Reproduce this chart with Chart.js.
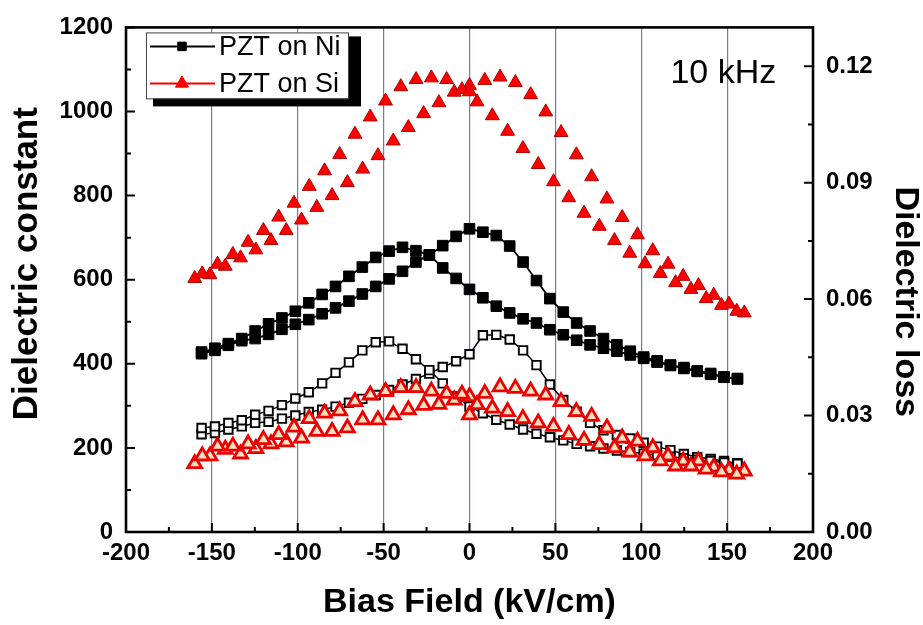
<!DOCTYPE html>
<html>
<head>
<meta charset="utf-8">
<script src="https://cdn.jsdelivr.net/npm/chart.js@4.4.1/dist/chart.umd.min.js"></script>
<style>
  html, body { margin: 0; padding: 0; background: #ffffff; }
  canvas { display: block; }
</style>
</head>
<body>
<canvas id="chart" width="923" height="625"></canvas>
<script>
// ---------------- data ----------------
// PZT on Ni : bias field points shared by both sweeps
const fieldNi = [-156, -148.2, -140.4, -132.6, -124.8, -117, -109.2, -101.4, -93.6, -85.8,
  -78, -70.2, -62.4, -54.6, -46.8, -39, -31.2, -23.4, -15.6, -7.8,
  0, 7.8, 15.6, 23.4, 31.2, 39, 46.8, 54.6, 62.4, 70.2,
  78, 85.8, 93.6, 101.4, 109.2, 117, 124.8, 132.6, 140.4, 148.2, 156];
// dielectric constant, sweep with peak near 0 kV/cm
const niConstUp = [424, 432, 444, 455, 460, 470, 482, 494, 505, 519,
  533, 549, 566, 584, 602, 620, 642, 659, 681, 703,
  721, 713, 705, 680, 642, 598, 555, 523, 497, 478,
  460, 445, 430, 416, 407, 397, 391, 383, 377, 369, 365];
// dielectric constant, sweep with peak near -39 kV/cm
const niConstDown = [428, 437, 448, 460, 478, 495, 509, 525, 545, 565,
  584, 608, 630, 653, 668, 677, 669, 659, 628, 603,
  577, 557, 537, 521, 507, 497, 481, 469, 456, 445,
  437, 430, 421, 413, 404, 396, 389, 382, 375, 368, 364];
// dielectric loss
const niLossUp = [0.0252, 0.0255, 0.0264, 0.0272, 0.0281, 0.0284, 0.0292, 0.0300, 0.0309, 0.0315,
  0.0323, 0.0333, 0.0343, 0.0353, 0.0366, 0.0380, 0.0394, 0.0408, 0.0425, 0.0440,
  0.0458, 0.0507, 0.0508, 0.0496, 0.0468, 0.0430, 0.0380, 0.0340, 0.0310, 0.0281,
  0.0262, 0.0250, 0.0241, 0.0230, 0.0220, 0.0211, 0.0201, 0.0193, 0.0188, 0.0183, 0.0177];
const niLossDown = [0.0268, 0.0272, 0.0281, 0.0288, 0.0302, 0.0312, 0.0327, 0.0344, 0.0360, 0.0383,
  0.0410, 0.0437, 0.0468, 0.0489, 0.0491, 0.0472, 0.0445, 0.0417, 0.0383, 0.0349,
  0.0323, 0.0306, 0.0289, 0.0277, 0.0264, 0.0253, 0.0244, 0.0236, 0.0227, 0.0221,
  0.0215, 0.0210, 0.0206, 0.0202, 0.0198, 0.0194, 0.0190, 0.0186, 0.0183, 0.0179, 0.0176];

// PZT on Si : the two sweeps sit on interleaved field points
const fieldSiUp = [-160, -151.1, -142.2, -133.3, -124.4, -115.6, -106.7, -97.8, -88.9, -80,
  -71.1, -62.2, -53.3, -44.4, -35.6, -26.7, -17.8, -8.9, 0, 8.9,
  17.8, 26.7, 35.6, 44.4, 53.3, 62.2, 71.1, 80, 88.9, 97.8,
  106.7, 115.6, 124.4, 133.3, 142.2, 151.1, 160];
const fieldSiDown = [-155.6, -146.7, -137.8, -128.9, -120, -111.1, -102.2, -93.3, -84.4, -75.6,
  -66.7, -57.8, -48.9, -40, -31.1, -22.2, -13.3, -4.4, 0, 4.4,
  13.3, 22.2, 31.1, 40, 48.9, 57.8, 66.7, 75.6, 84.4, 93.3,
  102.2, 111.1, 120, 128.9, 137.8, 146.7, 155.6];
const siConstUp = [603, 612, 632, 652, 671, 693, 717, 742, 772, 800,
  831, 863, 895, 930, 962, 995, 1021, 1046, 1062, 1074,
  1082, 1069, 1040, 999, 950, 897, 845, 792, 748, 707,
  669, 637, 608, 586, 563, 542, 521];
const siConstDown = [614, 637, 660, 689, 717, 749, 782, 822, 859, 898,
  946, 987, 1025, 1059, 1076, 1080, 1076, 1052, 1047, 1023,
  990, 953, 912, 874, 833, 795, 758, 727, 693, 663,
  638, 615, 593, 577, 555, 539, 525];
const siLossUp = [0.0176, 0.0196, 0.0213, 0.0201, 0.0215, 0.0227, 0.0232, 0.0242, 0.0259, 0.0259,
  0.0268, 0.0289, 0.0289, 0.0302, 0.0315, 0.0326, 0.0329, 0.0340, 0.0349, 0.0357,
  0.0374, 0.0370, 0.0363, 0.0353, 0.0336, 0.0310, 0.0298, 0.0268, 0.0242, 0.0234,
  0.0217, 0.0196, 0.0183, 0.0183, 0.0167, 0.0159, 0.0157];
const siLossDown = [0.0196, 0.0221, 0.0221, 0.0227, 0.0238, 0.0251, 0.0270, 0.0292, 0.0306, 0.0312,
  0.0336, 0.0353, 0.0362, 0.0372, 0.0372, 0.0363, 0.0357, 0.0355, 0.0302, 0.0328,
  0.0319, 0.0310, 0.0292, 0.0281, 0.0272, 0.0251, 0.0236, 0.0225, 0.0217, 0.0206,
  0.0196, 0.0183, 0.0170, 0.0170, 0.0162, 0.0155, 0.0149];

// axes / text
const lossTicks = [0, 0.03, 0.06, 0.09, 0.12];
const legendLabels = ['PZT on Ni', 'PZT on Si'];
const xTitle = 'Bias Field (kV/cm)';
const yTitle = 'Dielectric constant';
const y2Title = 'Dielectric loss';
const freqLabel = '10 kHz';

// ---------------- chart ----------------
const FONT = '"Liberation Sans", Arial, Helvetica, sans-serif';
Chart.defaults.font.family = FONT;
Chart.defaults.color = '#000';

function pts(xs, ys) { return xs.map((x, i) => ({ x: x, y: ys[i] })); }
function loop(xs, up, down) { return pts(xs, up).concat(pts(xs, down).reverse()); }

const NI_COLOR = '#000000';
const SI_COLOR = '#ff0000';

const framePlugin = {
  id: 'frame',
  afterDraw(chart) {
    const { ctx, chartArea: a, scales } = chart;
    const sx = scales.x, sy = scales.y, sy2 = scales.y2;
    ctx.save();
    // inward ticks
    ctx.strokeStyle = '#000';
    ctx.lineWidth = 2;
    ctx.beginPath();
    for (let v = sx.min; v <= sx.max + 1e-9; v += 25) {
      const px = sx.getPixelForValue(v);
      const len = (Math.round(v) % 50 === 0) ? 9 : 5;
      ctx.moveTo(px, a.bottom); ctx.lineTo(px, a.bottom - len);
    }
    for (let v = sy.min; v <= sy.max + 1e-9; v += 100) {
      const py = sy.getPixelForValue(v);
      const len = (Math.round(v) % 200 === 0) ? 9 : 5;
      ctx.moveTo(a.left, py); ctx.lineTo(a.left + len, py);
    }
    for (let i = 0; i <= 8; i++) {
      const v = i * 0.015;
      const py = sy2.getPixelForValue(v);
      const len = (i % 2 === 0) ? 9 : 5;
      ctx.moveTo(a.right, py); ctx.lineTo(a.right - len, py);
    }
    ctx.stroke();
    // frame
    ctx.lineWidth = 2.6;
    ctx.strokeRect(a.left, a.top, a.right - a.left, a.bottom - a.top);

    // vertical axis titles
    ctx.fillStyle = '#000';
    ctx.textAlign = 'center';
    ctx.textBaseline = 'middle';
    ctx.font = 'bold 35px ' + FONT;
    ctx.save();
    ctx.translate(27, (a.top + a.bottom) / 2 - 16);
    ctx.rotate(-Math.PI / 2);
    ctx.fillText(yTitle, 0, 0);
    ctx.restore();
    ctx.font = 'bold 34px ' + FONT;
    ctx.save();
    ctx.translate(905, (a.top + a.bottom) / 2 + 22);
    ctx.rotate(Math.PI / 2);
    ctx.fillText(y2Title, 0, 0);
    ctx.restore();

    // legend with shadow
    const box = { x: a.left + 20, y: a.top + 5, w: 202, h: 66 };
    ctx.fillStyle = '#000';
    ctx.fillRect(box.x + 7, box.y + 4, box.w + 6, box.h + 4);
    ctx.fillStyle = '#fff';
    ctx.fillRect(box.x, box.y, box.w, box.h);
    ctx.strokeStyle = '#444';
    ctx.lineWidth = 1;
    ctx.strokeRect(box.x + 0.5, box.y + 0.5, box.w, box.h);
    const rows = [
      { label: legendLabels[0], color: NI_COLOR, style: 'rect', r: 6, fill: NI_COLOR, cy: box.y + 14 },
      { label: legendLabels[1], color: SI_COLOR, style: 'triangle', r: 7.5, fill: SI_COLOR, cy: box.y + 51 }
    ];
    rows.forEach(row => {
      ctx.strokeStyle = row.color;
      ctx.lineWidth = 2;
      ctx.beginPath();
      ctx.moveTo(box.x + 4, row.cy); ctx.lineTo(box.x + 69, row.cy);
      ctx.stroke();
      ctx.fillStyle = row.fill;
      ctx.strokeStyle = row.color;
      ctx.lineWidth = 1;
      Chart.helpers.drawPoint(ctx, { pointStyle: row.style, radius: row.r, borderWidth: 1, rotation: 0 }, box.x + 36, row.cy);
      ctx.fillStyle = '#000';
      ctx.font = '27px ' + FONT;
      ctx.textAlign = 'left';
      ctx.textBaseline = 'middle';
      ctx.fillText(row.label, box.x + 73, row.cy + 1);
    });

    // frequency annotation
    ctx.fillStyle = '#000';
    ctx.font = '34px ' + FONT;
    ctx.textAlign = 'left';
    ctx.textBaseline = 'alphabetic';
    ctx.fillText(freqLabel, sx.getPixelForValue(117), sy.getPixelForValue(1068));
    ctx.restore();
  }
};

new Chart(document.getElementById('chart'), {
  type: 'scatter',
  data: {
    datasets: [
      {
        label: 'PZT on Ni',
        data: loop(fieldNi, niConstUp, niConstDown),
        yAxisID: 'y',
        showLine: true,
        borderColor: NI_COLOR,
        borderWidth: 1.8,
        pointStyle: 'rect',
        pointRadius: 7.5,
        pointBackgroundColor: NI_COLOR,
        pointBorderColor: NI_COLOR,
        pointBorderWidth: 1,
        order: 2
      },
      {
        label: 'PZT on Ni (loss)',
        data: loop(fieldNi, niLossUp, niLossDown),
        yAxisID: 'y2',
        showLine: true,
        borderColor: NI_COLOR,
        borderWidth: 1.5,
        pointStyle: 'rect',
        pointRadius: 6,
        pointBackgroundColor: '#ffffff',
        pointBorderColor: NI_COLOR,
        pointBorderWidth: 1.9,
        order: 2
      },
      {
        label: 'PZT on Si',
        data: pts(fieldSiUp, siConstUp).concat(pts(fieldSiDown, siConstDown)),
        yAxisID: 'y',
        showLine: false,
        pointStyle: 'triangle',
        pointRadius: 8,
        pointBackgroundColor: SI_COLOR,
        pointBorderColor: '#b00000',
        pointBorderWidth: 1,
        order: 1
      },
      {
        label: 'PZT on Si (loss)',
        data: pts(fieldSiUp, siLossUp).concat(pts(fieldSiDown, siLossDown)),
        yAxisID: 'y2',
        showLine: false,
        pointStyle: 'triangle',
        pointRadius: 8,
        pointBackgroundColor: '#fbe0c0',
        pointBorderColor: '#ee0000',
        pointBorderWidth: 2.8,
        order: 1
      }
    ]
  },
  options: {
    responsive: false,
    animation: false,
    events: [],
    layout: { padding: { top: 25, left: 0, right: 0, bottom: 0 } },
    plugins: { legend: { display: false }, tooltip: { enabled: false } },
    scales: {
      x: {
        type: 'linear',
        position: 'bottom',
        min: -200, max: 200,
        ticks: { stepSize: 50, autoSkip: false, maxRotation: 0, padding: 7, font: { size: 24, weight: 'bold' }, color: '#000',
                 callback: v => String(v) },
        grid: {
          drawTicks: false,
          lineWidth: 1.2,
          color: c => (c.tick && Math.abs(c.tick.value) === 200) ? 'rgba(0,0,0,0)' : '#7575c6'
        },
        border: { display: false },
        title: { display: true, text: xTitle, font: { size: 34, weight: 'bold', lineHeight: 1 }, padding: { top: 0, bottom: 5 }, color: '#000' },
        afterFit: s => { s.height = 93; }
      },
      y: {
        type: 'linear',
        position: 'left',
        min: 0, max: 1200,
        ticks: { stepSize: 200, autoSkip: false, padding: 13, font: { size: 24, weight: 'bold' }, color: '#000',
                 callback: v => String(v) },
        grid: { display: false, drawTicks: false },
        border: { display: false },
        title: { display: false, text: yTitle },
        afterFit: s => { s.width = 126; }
      },
      y2: {
        type: 'linear',
        position: 'right',
        min: 0, max: 0.13,
        afterBuildTicks: s => { s.ticks = lossTicks.map(v => ({ value: v })); },
        ticks: { autoSkip: false, padding: 13, font: { size: 24, weight: 'bold' }, color: '#000', callback: v => Number(v).toFixed(2) },
        grid: { display: false, drawTicks: false },
        border: { display: false },
        title: { display: false, text: y2Title },
        afterFit: s => { s.width = 110; }
      }
    }
  },
  plugins: [framePlugin]
});
</script>
</body>
</html>
